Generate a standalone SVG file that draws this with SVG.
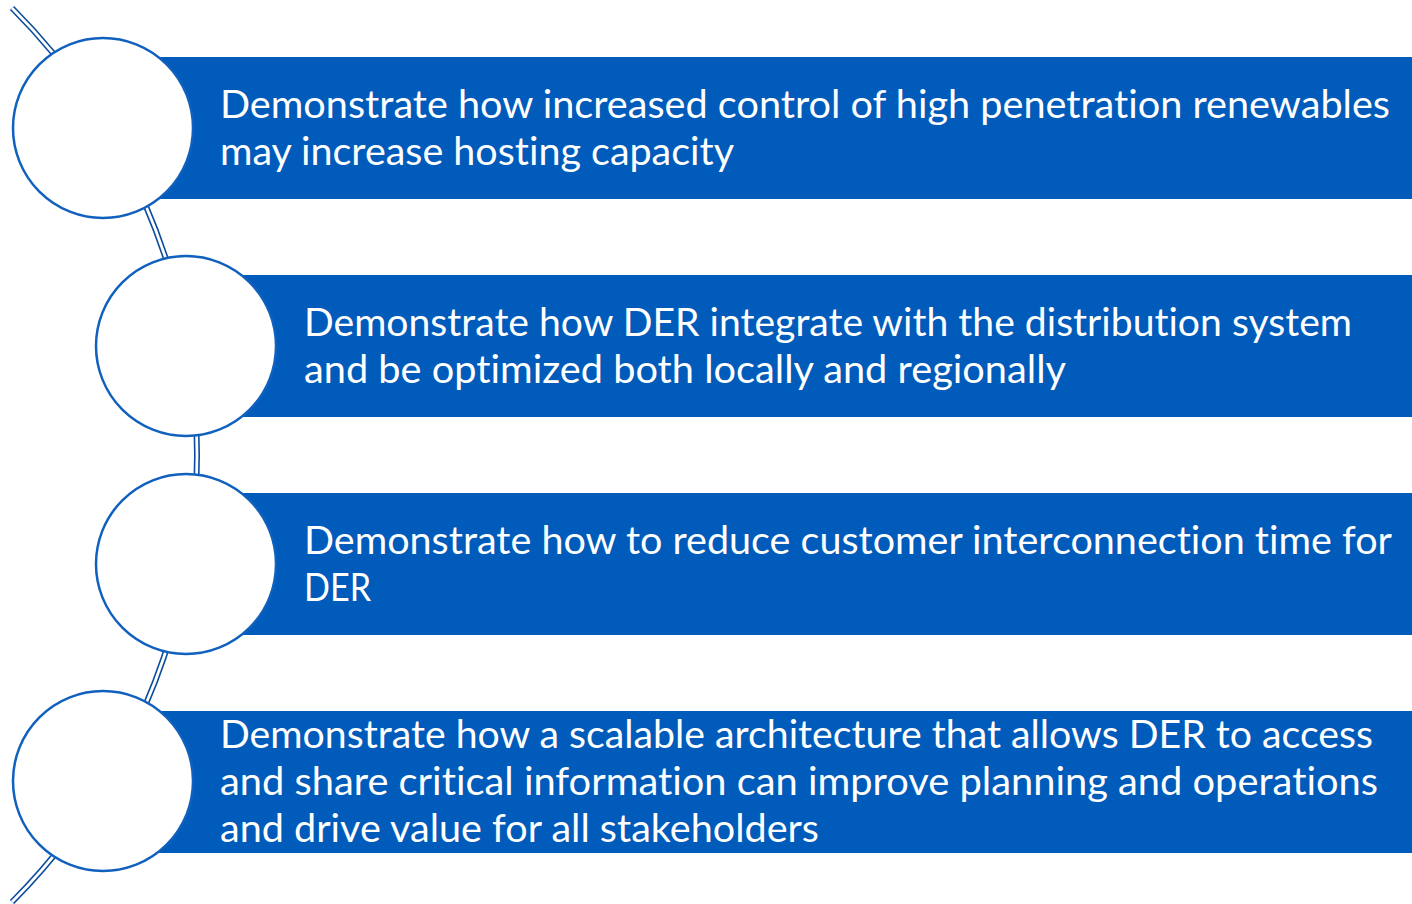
<svg xmlns="http://www.w3.org/2000/svg" width="1412" height="904" viewBox="0 0 1412 904">
<style>
.bar{fill:#005BBB}
.node{fill:#FFFFFF;stroke:#1060BE;stroke-width:2.5}
.t{font-family:Lato,"Open Sans","Liberation Sans",sans-serif;font-size:38px;fill:#FFFFFF;font-variant-ligatures:none;font-feature-settings:"liga" 0,"clig" 0}
</style>
<rect width="1412" height="904" fill="#FFFFFF"/>
<g id="connectors">
<path d="M 12 8 A 632.5 632.5 0 0 1 12 902" fill="none" stroke="#0B4C9C" stroke-width="6"/>
<path d="M 12 8 A 632.5 632.5 0 0 1 12 902" fill="none" stroke="#FFFFFF" stroke-width="2.8"/>
</g>
<g id="item1">
<rect class="bar" x="103" y="57" width="1309" height="142"/>
<circle class="node" cx="103" cy="128" r="90"/>
<text class="t" x="220" y="118" textLength="1170" lengthAdjust="spacingAndGlyphs">Demonstrate how increased control of high penetration renewables</text>
<text class="t" x="220" y="165" textLength="514" lengthAdjust="spacingAndGlyphs">may increase hosting capacity</text>
</g>
<g id="item2">
<rect class="bar" x="186" y="275" width="1226" height="142"/>
<circle class="node" cx="186" cy="346" r="90"/>
<text class="t" x="304" y="336" textLength="1048" lengthAdjust="spacingAndGlyphs">Demonstrate how DER integrate with the distribution system</text>
<text class="t" x="304" y="383" textLength="762" lengthAdjust="spacingAndGlyphs">and be optimized both locally and regionally</text>
</g>
<g id="item3">
<rect class="bar" x="186" y="493" width="1226" height="142"/>
<circle class="node" cx="186" cy="564" r="90"/>
<text class="t" x="304" y="554" textLength="1088" lengthAdjust="spacingAndGlyphs">Demonstrate how to reduce customer interconnection time for</text>
<text class="t" x="304" y="601" textLength="67" lengthAdjust="spacingAndGlyphs">DER</text>
</g>
<g id="item4">
<rect class="bar" x="103" y="711" width="1309" height="142"/>
<circle class="node" cx="103" cy="781" r="90"/>
<text class="t" x="220" y="748" textLength="1153" lengthAdjust="spacingAndGlyphs">Demonstrate how a scalable architecture that allows DER to access</text>
<text class="t" x="220" y="795" textLength="1158" lengthAdjust="spacingAndGlyphs">and share critical information can improve planning and operations</text>
<text class="t" x="220" y="842" textLength="599" lengthAdjust="spacingAndGlyphs">and drive value for all stakeholders</text>
</g>
</svg>
